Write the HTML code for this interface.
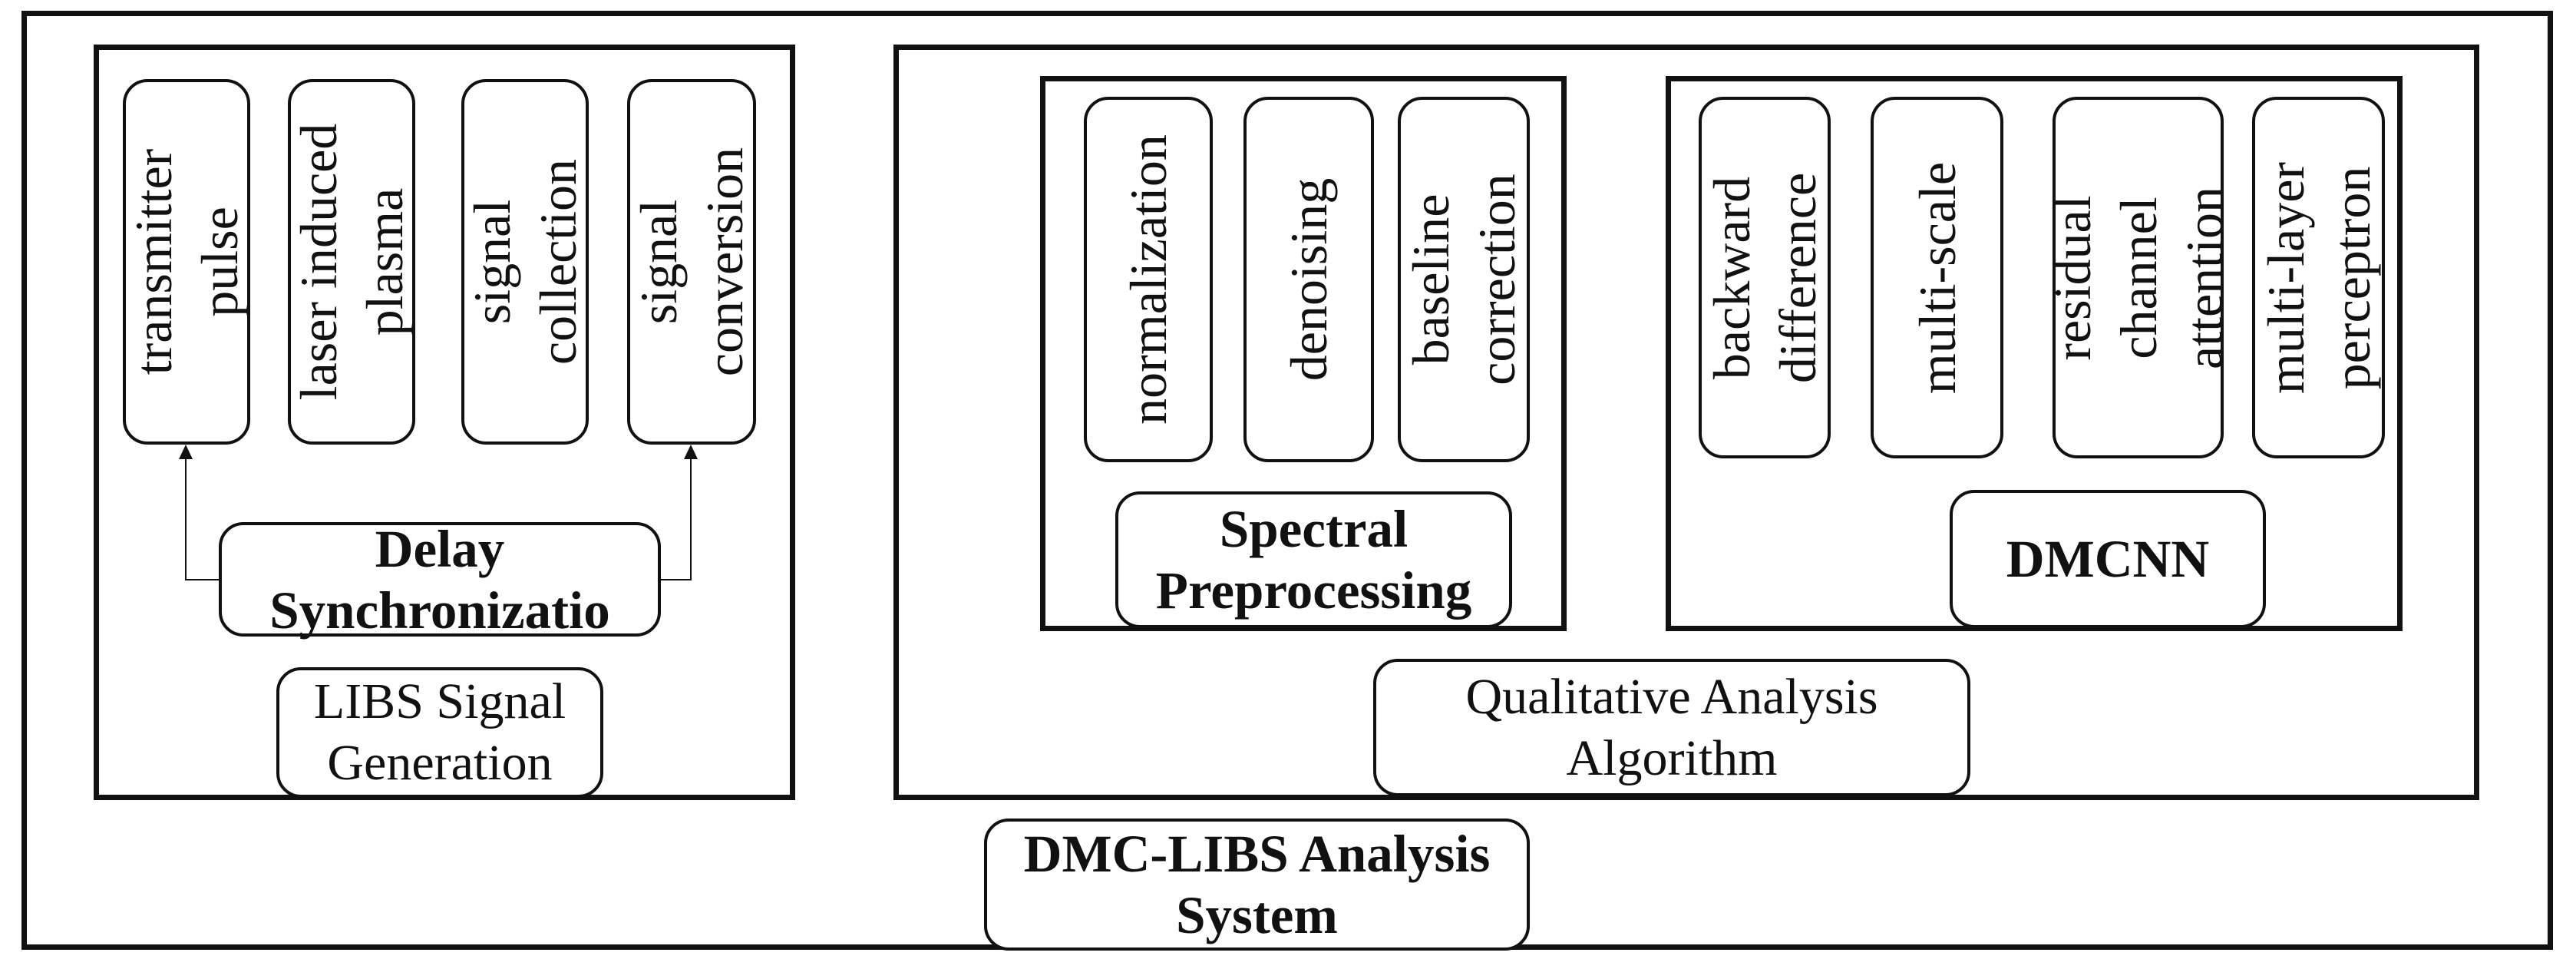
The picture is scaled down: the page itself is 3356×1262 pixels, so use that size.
<!DOCTYPE html>
<html><head><meta charset="utf-8"><style>
html,body{margin:0;padding:0;background:#fff;}
body{width:3356px;height:1262px;position:relative;overflow:hidden;font-family:"Liberation Serif",serif;color:#111;}
.r{position:absolute;border:7px solid #111;box-sizing:border-box;}
.b{position:absolute;border:4px solid #111;border-radius:32px;box-sizing:border-box;background:#fff;}
.v{position:absolute;left:50%;top:50%;transform:translate(-50%,-50%) rotate(-90deg);white-space:nowrap;text-align:center;font-size:68px;line-height:86px;}
.h{position:absolute;left:0;right:0;top:50%;transform:translateY(-50%);text-align:center;font-size:66px;line-height:80px;white-space:nowrap;}
.bold{font-weight:bold;font-size:69px;}
</style></head><body>
<div class="r" style="left:28px;top:14px;width:3298px;height:1223px;"></div>

<!-- LIBS -->
<div class="r" style="left:122px;top:58px;width:914px;height:984px;"></div>
<div class="b" style="left:160px;top:103px;width:166px;height:476px;"><div class="v">transmitter<br>pulse</div></div>
<div class="b" style="left:375px;top:103px;width:166px;height:476px;"><div class="v">laser induced<br>plasma</div></div>
<div class="b" style="left:601px;top:103px;width:166px;height:476px;"><div class="v">signal<br>collection</div></div>
<div class="b" style="left:817px;top:103px;width:168px;height:476px;"><div class="v">signal<br>conversion</div></div>
<svg style="position:absolute;left:0;top:0" width="3356" height="1262">
<polyline points="287,755 242,755 242,598" fill="none" stroke="#111" stroke-width="2"/>
<polygon points="242,579 233,598 251,598" fill="#111"/>
<polyline points="858,755 900,755 900,598" fill="none" stroke="#111" stroke-width="2"/>
<polygon points="900,579 891,598 909,598" fill="#111"/>
</svg>
<div class="b" style="left:285px;top:680px;width:576px;height:149px;"><div class="h bold">Delay<br>Synchronizatio</div></div>
<div class="b" style="left:360px;top:869px;width:426px;height:170px;"><div class="h">LIBS Signal<br>Generation</div></div>

<!-- Qualitative -->
<div class="r" style="left:1164px;top:58px;width:2066px;height:984px;"></div>
<div class="r" style="left:1355px;top:99px;width:686px;height:723px;"></div>
<div class="b" style="left:1412px;top:126px;width:168px;height:476px;"><div class="v">normalization</div></div>
<div class="b" style="left:1620px;top:126px;width:170px;height:476px;"><div class="v">denoising</div></div>
<div class="b" style="left:1821px;top:126px;width:172px;height:476px;"><div class="v">baseline<br>correction</div></div>
<div class="b" style="left:1453px;top:640px;width:517px;height:178px;"><div class="h bold">Spectral<br>Preprocessing</div></div>

<div class="r" style="left:2170px;top:99px;width:960px;height:723px;"></div>
<div class="b" style="left:2213px;top:126px;width:172px;height:471px;"><div class="v">backward<br>difference</div></div>
<div class="b" style="left:2437px;top:126px;width:173px;height:471px;"><div class="v">multi-scale</div></div>
<div class="b" style="left:2674px;top:126px;width:223px;height:471px;"><div class="v">residual<br>channel<br>attention</div></div>
<div class="b" style="left:2934px;top:126px;width:173px;height:471px;"><div class="v">multi-layer<br>perceptron</div></div>
<div class="b" style="left:2540px;top:638px;width:412px;height:180px;"><div class="h bold">DMCNN</div></div>

<div class="b" style="left:1789px;top:858px;width:778px;height:179px;"><div class="h">Qualitative Analysis<br>Algorithm</div></div>

<div class="b" style="left:1282px;top:1066px;width:711px;height:172px;"><div class="h bold">DMC-LIBS Analysis<br>System</div></div>
</body></html>
